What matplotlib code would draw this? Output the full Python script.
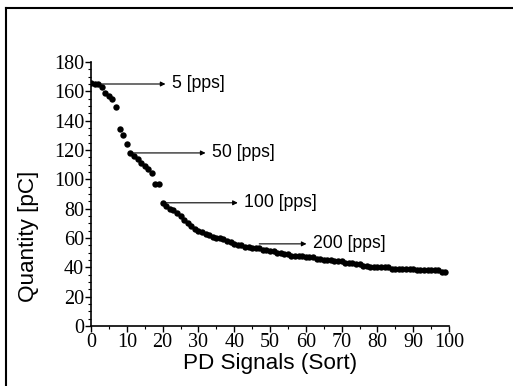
import matplotlib
matplotlib.use("Agg")
import matplotlib.pyplot as plt
from matplotlib.lines import Line2D
from matplotlib.ticker import MultipleLocator

# ---- data ----
signal_index = list(range(0, 100))
quantity_pc = [166, 165, 165, 163, 159, 157, 155, 149, 134, 130,
               124, 118, 116, 114, 111, 109, 107, 104, 97, 97,
               84, 82, 80, 79, 77, 75, 72, 70, 68, 66,
               65, 64, 63, 62, 61, 60, 60, 59, 58, 57,
               56, 55, 55, 54, 54, 53, 53, 53, 52, 52,
               51, 51, 50, 50, 49, 49, 48, 48, 48, 48,
               47, 47, 47, 46, 46, 45, 45, 45, 44, 44,
               44, 43, 43, 43, 42, 42, 41, 41, 40, 40,
               40, 40, 40, 40, 39, 39, 39, 39, 39, 39,
               39, 38, 38, 38, 38, 38, 38, 38, 37, 37]
ann_labels = ["5 [pps]", "50 [pps]", "100 [pps]", "200 [pps]"]
ann_from_x = [0.5, 11.5, 20, 47]
ann_from_y = [165, 118, 84, 56]
ann_text_x = [22.6, 33.8, 42.8, 62]

x_ticks = list(range(0, 101, 10))
y_ticks = list(range(0, 181, 20))

# ---- figure ----
fig = plt.figure(figsize=(5.13, 3.86), dpi=100)
ax = fig.add_axes([91/513, 1-326/386, (449-91)/513, (326-62)/386])

ax.plot(signal_index, quantity_pc, linestyle='none', marker='o',
        markersize=4.6, color='black', markeredgewidth=0)

for lab, fx, fy, tx in zip(ann_labels, ann_from_x, ann_from_y, ann_text_x):
    ax.annotate("", xy=(tx - 1.8, fy), xytext=(fx, fy),
                arrowprops=dict(arrowstyle='-|>', lw=0.8, color='black',
                                mutation_scale=7, shrinkA=0, shrinkB=0))
    ax.text(tx, fy, lab, ha='left', va='center', fontsize=12.7,
            family='Liberation Sans', color='black')

ax.set_xlim(0, 100)
ax.set_ylim(0, 180)
ax.set_xticks(x_ticks)
ax.set_yticks(y_ticks)
ax.xaxis.set_minor_locator(MultipleLocator(5))
ax.yaxis.set_minor_locator(MultipleLocator(5))
ax.spines['top'].set_visible(False)
ax.spines['right'].set_visible(False)
for s in ('left', 'bottom'):
    ax.spines[s].set_linewidth(1.2)
ax.tick_params(which='major', direction='out', length=4, width=1.0,
               labelsize=14.5, pad=1)
ax.tick_params(which='minor', direction='out', length=2, width=0.8)
for t in ax.get_xticklabels() + ax.get_yticklabels():
    t.set_family('Liberation Serif')

ax.set_xlabel("PD Signals (Sort)", family='Liberation Sans', fontsize=16.2,
              labelpad=0.5)
ax.set_ylabel("Quantity [pC]", family='Liberation Sans', fontsize=16.2)
ax.yaxis.set_label_coords(-0.145, 0.34)

# outer frame
fig.add_artist(Line2D([6/513, 6/513], [0, 1-8/386], color='black', lw=1.5,
                      transform=fig.transFigure))
fig.add_artist(Line2D([6/513, 1], [1-8/386, 1-8/386], color='black', lw=1.5,
                      transform=fig.transFigure))

fig.savefig("out.png", dpi=100)
